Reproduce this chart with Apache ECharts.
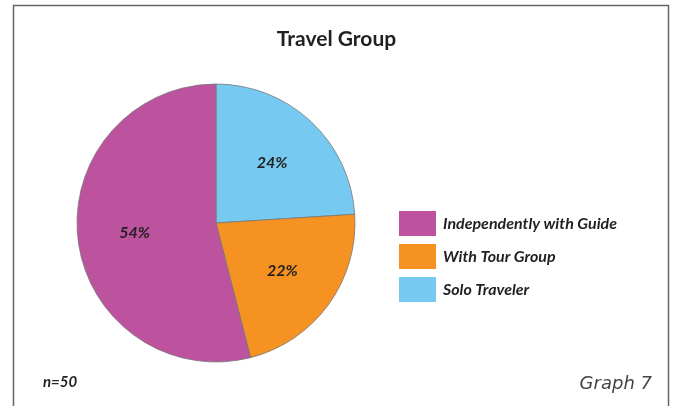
<!DOCTYPE html>
<html>
<head>
<meta charset="utf-8">
<script src="https://cdn.jsdelivr.net/npm/echarts@6/dist/echarts.min.js"></script>
<style>
  html, body { margin: 0; padding: 0; background: #fff; }
  #chart { width: 673px; height: 406px; }
</style>
</head>
<body>
<div id="chart"></div>
<script>
// 数据
const categories = ['Solo Traveler', 'With Tour Group', 'Independently with Guide']
const values = [24, 22, 54]
const colors = ['#76C9F0', '#F69222', '#BD529E']
const legendOrder = ['Independently with Guide', 'With Tour Group', 'Solo Traveler']

const chart = echarts.init(document.getElementById('chart'))

const pieData = categories.map((name, i) => ({
  name: name,
  value: values[i],
  itemStyle: { color: colors[i] }
}))

const option = {
  animation: false,
  title: {
    text: 'Travel Group',
    left: 'center',
    top: 29,
    padding: 0,
    textStyle: { fontFamily: 'Lato', fontSize: 21, fontWeight: 'bold', color: '#231F20' }
  },
  legend: {
    data: legendOrder,
    orient: 'vertical',
    left: 399,
    top: 211,
    padding: 0,
    itemWidth: 37,
    itemHeight: 25,
    itemGap: 8,
    icon: 'rect',
    selectedMode: false,
    itemStyle: { borderWidth: 0 },
    textStyle: { fontFamily: 'Lato', fontSize: 16, fontWeight: 'bold', fontStyle: 'italic', color: '#231F20', padding: [0, 0, 0, 2] }
  },
  graphic: [
    {
      type: 'rect',
      shape: { x: 13.5, y: 5.5, width: 655, height: 420 },
      style: { fill: 'none', stroke: '#666', lineWidth: 1.5 },
      silent: true
    },
    {
      type: 'text',
      left: 43,
      top: 375,
      style: { text: 'n=50', font: 'italic bold 15px Lato', fill: '#231F20' }
    },
    {
      type: 'text',
      right: 21,
      top: 375,
      style: { text: 'Graph 7', font: 'italic 18px "DejaVu Sans"', fill: '#444' }
    }
  ],
  series: [
    {
      name: 'Travel Group',
      type: 'pie',
      center: [216, 223],
      radius: [0, 139],
      startAngle: 90,
      clockwise: true,
      data: pieData,
      itemStyle: { borderColor: '#777', borderWidth: 0.8 },
      label: { show: false },
      labelLine: { show: false },
      emphasis: { disabled: true }
    },
    {
      // 只用来放标签
      name: 'labels',
      type: 'pie',
      center: [216, 223],
      radius: [0, 158],
      startAngle: 90,
      clockwise: true,
      silent: true,
      z: 5,
      data: categories.map((name, i) => ({ name: name, value: values[i] })),
      itemStyle: { color: 'rgba(0,0,0,0)', borderWidth: 0 },
      label: {
        show: true,
        position: 'inside',
        formatter: '{c}%',
        fontFamily: 'Lato',
        fontSize: 16,
        fontWeight: 'bold',
        fontStyle: 'italic',
        color: '#231F20'
      },
      labelLine: { show: false },
      emphasis: { disabled: true }
    }
  ]
}

chart.setOption(option)
</script>
</body>
</html>
